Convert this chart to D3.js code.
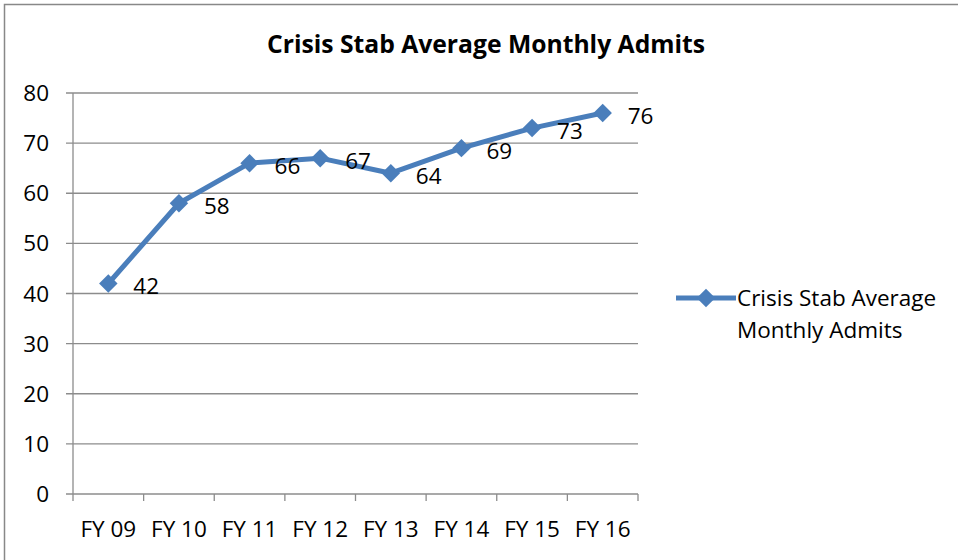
<!DOCTYPE html>
<html>
<head>
<meta charset="utf-8">
<script src="https://cdn.jsdelivr.net/npm/d3@7"></script>
<style>
  body { margin: 0; background: #fff; }
  text { font-family: "Open Sans", "Liberation Sans", sans-serif; fill: #000; }
</style>
</head>
<body>
<div id="chart"></div>
<script>
/* chart data */
var years = ["FY 09", "FY 10", "FY 11", "FY 12", "FY 13", "FY 14", "FY 15", "FY 16"];
var admits = [42, 58, 66, 67, 64, 69, 73, 76];
var yTicks = [0, 10, 20, 30, 40, 50, 60, 70, 80];
var seriesName = ["Crisis Stab Average", "Monthly Admits"];

var width = 958, height = 560;
var margin = {top: 93, left: 73, right: 320, bottom: 66};
var lineColor = "#4A7EBB";
var fontSize = 22.5;

var svg = d3.select("#chart")
            .append("svg")
            .attr("width", width)
            .attr("height", height);

/* outer frame */
svg.append("rect")
    .attr("x", 4.5).attr("y", 4.5)
    .attr("width", 960).attr("height", 570)
    .attr("fill", "none")
    .attr("stroke", "#888")
    .attr("stroke-width", 1.5);

/* title */
svg.append("text")
    .attr("x", 486).attr("y", 53)
    .attr("text-anchor", "middle")
    .attr("font-size", 24.7)
    .attr("font-weight", "bold")
    .text("Crisis Stab Average Monthly Admits");

var x = d3.scaleBand().domain(years).range([margin.left, width - margin.right]);
var y = d3.scaleLinear().domain([0, 80]).range([height - margin.bottom, margin.top]);

/* gridlines */
svg.append("g").selectAll("line").data(yTicks)
    .enter().append("line")
    .attr("x1", margin.left - 7).attr("x2", width - margin.right)
    .attr("y1", function(d) { return y(d); })
    .attr("y2", function(d) { return y(d); })
    .attr("stroke", "#8c8c8c")
    .attr("stroke-width", 1.3);

/* y axis */
svg.append("line")
    .attr("x1", margin.left).attr("x2", margin.left)
    .attr("y1", y(80)).attr("y2", y(0))
    .attr("stroke", "#8c8c8c").attr("stroke-width", 1.3);

svg.append("g").selectAll("text").data(yTicks)
    .enter().append("text")
    .attr("x", 49)
    .attr("y", function(d) { return y(d) + 8; })
    .attr("text-anchor", "end")
    .attr("font-size", fontSize)
    .text(function(d) { return d; });

/* x axis ticks at band edges */
var edges = years.map(function(d) { return x(d); }).concat([x.range()[1]]);
svg.append("g").selectAll("line").data(edges)
    .enter().append("line")
    .attr("x1", function(d) { return d; }).attr("x2", function(d) { return d; })
    .attr("y1", y(0)).attr("y2", y(0) + 7)
    .attr("stroke", "#8c8c8c").attr("stroke-width", 1.3);

svg.append("g").selectAll("text").data(years)
    .enter().append("text")
    .attr("x", function(d) { return x(d) + x.bandwidth() / 2; })
    .attr("y", 537)
    .attr("text-anchor", "middle")
    .attr("font-size", fontSize)
    .text(function(d) { return d; });

/* line */
var line = d3.line()
    .x(function(d, i) { return x(years[i]) + x.bandwidth() / 2; })
    .y(function(d) { return y(d); });

svg.append("path")
    .datum(admits)
    .attr("fill", "none")
    .attr("stroke", lineColor)
    .attr("stroke-width", 5)
    .attr("stroke-linejoin", "round")
    .attr("d", line);

svg.append("g").selectAll("path").data(admits)
    .enter().append("path")
    .attr("transform", function(d, i) {
        return "translate(" + (x(years[i]) + x.bandwidth() / 2) + "," + y(d) + ") rotate(45)";
    })
    .attr("d", d3.symbol().type(d3.symbolSquare).size(170))
    .attr("fill", lineColor);

/* data labels */
svg.append("g").selectAll("text").data(admits)
    .enter().append("text")
    .attr("x", function(d, i) { return x(years[i]) + x.bandwidth() / 2 + 25; })
    .attr("y", function(d) { return y(d) + 10.5; })
    .attr("font-size", fontSize)
    .text(function(d) { return d; });

/* legend */
var legend = svg.append("g").attr("transform", "translate(676,298)");
legend.append("line")
    .attr("x1", 0).attr("x2", 60)
    .attr("stroke", lineColor).attr("stroke-width", 5);
legend.append("path")
    .attr("transform", "translate(30,0) rotate(45)")
    .attr("d", d3.symbol().type(d3.symbolSquare).size(170))
    .attr("fill", lineColor);
legend.selectAll("text").data(seriesName)
    .enter().append("text")
    .attr("x", 61)
    .attr("y", function(d, i) { return 8 + i * 31.5; })
    .attr("font-size", fontSize)
    .text(function(d) { return d; });
</script>
</body>
</html>
